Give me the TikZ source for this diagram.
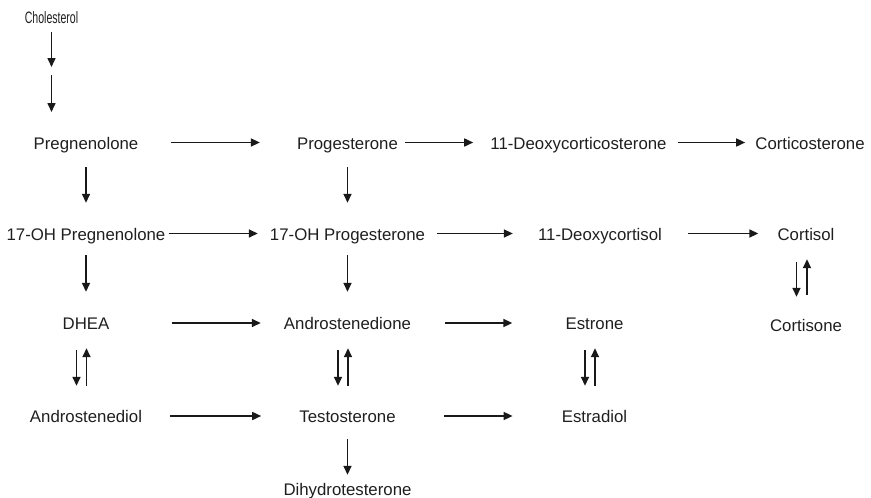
\documentclass[tikz,border=0pt]{standalone}
\usepackage{fontspec}
\setmainfont{Liberation Sans}
\usetikzlibrary{arrows.meta}
\begin{document}
\begin{tikzpicture}[x=1pt,y=-1pt,
  lbl/.style={anchor=base,inner sep=0pt,text height=13pt,text depth=0pt,text=black!88,font=\fontsize{16.8}{20}\selectfont},
  arr/.style={line width=1.6pt,black!90,-{Triangle[length=9pt,width=8pt]}}]
\useasboundingbox (0,0) rectangle (871,498);
% nodes
\node[lbl] (chol) at (51.5,23) {\scalebox{0.64}[1]{\fontsize{16.5}{18}\selectfont Cholesterol}};
\coordinate (c1) at (51.5,67);
\coordinate (c2) at (51.5,75);
\coordinate (c3) at (51.5,112);
\node[lbl] (preg) at (86,149) {Pregnenolone};
\node[lbl] (prog) at (347.5,149) {Progesterone};
\node[lbl] (doc) at (578.5,149) {11-Deoxycorticosterone};
\node[lbl] (cortico) at (810,149) {Corticosterone};
\node[lbl] (ohpreg) at (86,240) {17-OH Pregnenolone};
\node[lbl] (ohprog) at (347.5,240) {17-OH Progesterone};
\node[lbl] (dcortisol) at (600,240) {11-Deoxycortisol};
\node[lbl] (cortisol) at (806,240) {Cortisol};
\node[lbl] (dhea) at (86,329.5) {DHEA};
\node[lbl] (andione) at (347.5,329.5) {Androstenedione};
\node[lbl] (estrone) at (594.5,329.5) {Estrone};
\node[lbl] (cortisone) at (806,331) {Cortisone};
\node[lbl] (andiol) at (86,422.5) {Androstenediol};
\node[lbl] (testo) at (347.5,422.5) {Testosterone};
\node[lbl] (estradiol) at (594.5,422.5) {Estradiol};
\node[lbl] (dht) at (347.5,495) {Dihydrotesterone};
% cholesterol arrows
\draw[arr,shorten <=9pt] (chol) -- (c1);
\draw[arr] (c2) -- (c3);
% horizontal arrows
\draw[arr,shorten <=32pt,shorten >=37pt] (preg) -- (prog);
\draw[arr,shorten <=7pt,shorten >=17pt] (prog) -- (doc);
\draw[arr,shorten <=11pt,shorten >=10pt] (doc) -- (cortico);
\draw[arr,shorten <=3pt,shorten >=12pt] (ohpreg) -- (ohprog);
\draw[arr,shorten <=12pt,shorten >=25pt] (ohprog) -- (dcortisol);
\draw[arr,shorten <=26pt,shorten >=19pt] (dcortisol) -- (cortisol);
\draw[arr,shorten <=62pt,shorten >=23pt] (dhea) -- (andione);
\draw[arr,shorten <=34pt,shorten >=53pt] (andione) -- (estrone);
\draw[arr,shorten <=28pt,shorten >=38pt] (andiol) -- (testo);
\draw[arr,shorten <=48pt,shorten >=49pt] (testo) -- (estradiol);
% vertical arrows
\draw[arr,shorten <=18pt,shorten >=24pt] (preg.south) -- (ohpreg.north);
\draw[arr,shorten <=18pt,shorten >=24pt] (prog.south) -- (ohprog.north);
\draw[arr,shorten <=15pt,shorten >=24.5pt] (ohpreg.south) -- (dhea.north);
\draw[arr,shorten <=15pt,shorten >=24.5pt] (ohprog.south) -- (andione.north);
\draw[arr,shorten <=16.5pt,shorten >=7pt] (testo.south) -- (dht.north);
% reversible pairs
\foreach \a/\b in {dhea/andiol,andione/testo,estrone/estradiol}{
  \draw[arr,shorten <=20.5pt,shorten >=23.5pt] ([xshift=-9.5pt]\a.south) -- ([xshift=-9.5pt]\b.north);
  \draw[arr,shorten <=23.5pt,shorten >=18.5pt] ([xshift=0.5pt]\b.north) -- ([xshift=0.5pt]\a.south);
}
\draw[arr,shorten <=22pt,shorten >=21pt] ([xshift=-9.5pt]cortisol.south) -- ([xshift=-9.5pt]cortisone.north);
\draw[arr,shorten <=23pt,shorten >=19pt] ([xshift=1pt]cortisone.north) -- ([xshift=1pt]cortisol.south);
\end{tikzpicture}
\end{document}
